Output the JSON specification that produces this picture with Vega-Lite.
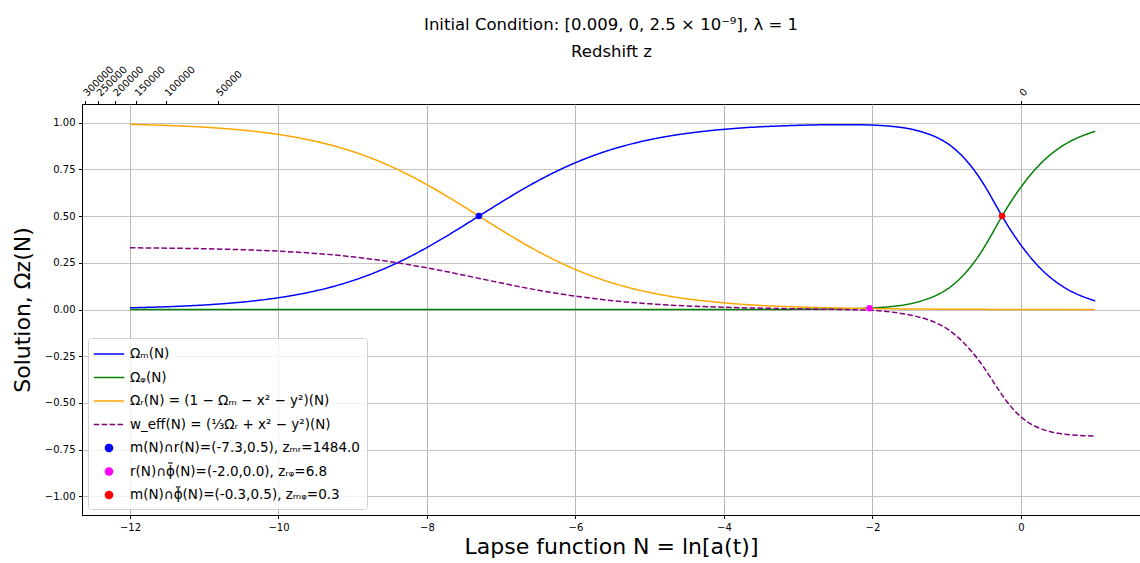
{
  "$schema": "https://vega.github.io/schema/vega-lite/v6.json",
  "width": 1058,
  "height": 411,
  "autosize": "none",
  "padding": {"left": 82, "top": 104, "right": 0, "bottom": 48},
  "background": "white",
  "config": {
    "font": "DejaVu Sans",
    "view": {"stroke": "black", "strokeWidth": 1},
    "axis": {
      "labelFont": "DejaVu Sans",
      "titleFont": "DejaVu Sans",
      "labelFontSize": 10,
      "labelColor": "black",
      "titleColor": "black",
      "titleFontWeight": "normal",
      "tickColor": "black",
      "tickSize": 3.5,
      "labelPadding": 3.5,
      "domainColor": "black",
      "gridColor": "#b0b0b0",
      "gridWidth": 0.9
    },
    "legend": {
      "labelFont": "DejaVu Sans",
      "labelFontSize": 13.5,
      "labelColor": "black"
    }
  },
  "title": {
    "text": "Initial Condition: [0.009, 0, 2.5 × 10⁻⁹], λ = 1",
    "fontSize": 16.5,
    "fontWeight": "normal",
    "font": "DejaVu Sans",
    "color": "black",
    "anchor": "middle",
    "offset": 10
  },
  "datasets": {
    "curves": [
      {"N": -12, "m": 0.0090, "phi": 0, "r": 0.9910, "w": 0.3303},
      {"N": -11.5, "m": 0.0148, "phi": 0, "r": 0.9852, "w": 0.3284},
      {"N": -11, "m": 0.0241, "phi": 0, "r": 0.9759, "w": 0.3253},
      {"N": -10.5, "m": 0.0392, "phi": 0, "r": 0.9608, "w": 0.3203},
      {"N": -10, "m": 0.0630, "phi": 0, "r": 0.9370, "w": 0.3123},
      {"N": -9.5, "m": 0.0998, "phi": 0, "r": 0.9002, "w": 0.3001},
      {"N": -9, "m": 0.1545, "phi": 0, "r": 0.8455, "w": 0.2818},
      {"N": -8.5, "m": 0.2315, "phi": 0, "r": 0.7685, "w": 0.2562},
      {"N": -8, "m": 0.3318, "phi": 0, "r": 0.6682, "w": 0.2227},
      {"N": -7.5, "m": 0.4502, "phi": 0, "r": 0.5498, "w": 0.1833},
      {"N": -7, "m": 0.5744, "phi": 0, "r": 0.4256, "w": 0.1419},
      {"N": -6.5, "m": 0.6900, "phi": 0, "r": 0.3100, "w": 0.1033},
      {"N": -6, "m": 0.7858, "phi": 0, "r": 0.2142, "w": 0.0714},
      {"N": -5.5, "m": 0.8582, "phi": 0, "r": 0.1418, "w": 0.0473},
      {"N": -5, "m": 0.9089, "phi": 0, "r": 0.0911, "w": 0.0304},
      {"N": -4.5, "m": 0.9427, "phi": 0, "r": 0.0573, "w": 0.0191},
      {"N": -4, "m": 0.9644, "phi": 0.0001, "r": 0.0356, "w": 0.0118},
      {"N": -3.5, "m": 0.9782, "phi": 0.0003, "r": 0.0215, "w": 0.0071},
      {"N": -3, "m": 0.9858, "phi": 0.0008, "r": 0.0134, "w": 0.0037},
      {"N": -2.75, "m": 0.9881, "phi": 0.0015, "r": 0.0104, "w": 0.0022},
      {"N": -2.5, "m": 0.9892, "phi": 0.0027, "r": 0.0081, "w": 0.0007},
      {"N": -2.25, "m": 0.9892, "phi": 0.0045, "r": 0.0063, "w": -0.0015},
      {"N": -2, "m": 0.9871, "phi": 0.008, "r": 0.0049, "w": -0.0045},
      {"N": -1.75, "m": 0.9807, "phi": 0.0155, "r": 0.0038, "w": -0.0135},
      {"N": -1.5, "m": 0.9671, "phi": 0.030, "r": 0.0029, "w": -0.029},
      {"N": -1.25, "m": 0.9398, "phi": 0.058, "r": 0.0022, "w": -0.055},
      {"N": -1, "m": 0.8914, "phi": 0.107, "r": 0.0016, "w": -0.102},
      {"N": -0.75, "m": 0.8039, "phi": 0.195, "r": 0.0011, "w": -0.187},
      {"N": -0.5, "m": 0.6693, "phi": 0.33, "r": 0.0007, "w": -0.31},
      {"N": -0.25, "m": 0.4966, "phi": 0.503, "r": 0.0004, "w": -0.46},
      {"N": 0, "m": 0.3448, "phi": 0.655, "r": 0.0002, "w": -0.575},
      {"N": 0.25, "m": 0.2249, "phi": 0.775, "r": 0.0001, "w": -0.635},
      {"N": 0.5, "m": 0.1400, "phi": 0.86, "r": 0.0, "w": -0.663},
      {"N": 0.75, "m": 0.0830, "phi": 0.917, "r": 0.0, "w": -0.673},
      {"N": 1, "m": 0.0460, "phi": 0.954, "r": 0.0, "w": -0.677}
    ],
    "points": [
      {"series": "p1", "N": -7.3, "v": 0.5},
      {"series": "p2", "N": -2.04, "v": 0.007},
      {"series": "p3", "N": -0.255, "v": 0.5}
    ]
  },
  "layer": [
    {
      "data": {"name": "curves"},
      "transform": [{"fold": ["m", "phi", "r", "w"], "as": ["series", "v"]}],
      "mark": {"type": "line", "strokeWidth": 1.5, "interpolate": "natural", "clip": true},
      "encoding": {
        "x": {
          "field": "N", "type": "quantitative",
          "scale": {"domain": [-12.646, 1.603], "nice": false, "zero": false},
          "axis": {
            "orient": "bottom",
            "values": [-12, -10, -8, -6, -4, -2, 0],
            "format": "d",
            "grid": true,
            "title": "Lapse function N = ln[a(t)]",
            "titleFontSize": 22,
            "titlePadding": 4
          }
        },
        "y": {
          "field": "v", "type": "quantitative",
          "scale": {"domain": [-1.1, 1.1], "nice": false, "zero": false},
          "axis": {
            "values": [-1, -0.75, -0.5, -0.25, 0, 0.25, 0.5, 0.75, 1],
            "format": ".2f",
            "grid": true,
            "gridColor": "#c4c4c4",
            "gridWidth": 1.2,
            "title": "Solution, Ωᴢ(N)",
            "titleFontSize": 22,
            "titlePadding": 10
          }
        },
        "color": {
          "field": "series", "type": "nominal",
          "scale": {
            "domain": ["m", "phi", "r", "w", "p1", "p2", "p3"],
            "range": ["#0000ff", "#008000", "#ffa500", "#800080", "#0000ff", "#ff00ff", "#ff0000"]
          },
          "legend": {
            "title": null,
            "orient": "bottom-left",
            "offset": 6,
            "padding": 7,
            "symbolSize": 256,
            "symbolType": "M-1.9,0H1.9",
            "symbolOffset": 5,
            "labelOffset": 12,
            "rowPadding": 7.5,
            "labelLimit": 500,
            "fillColor": "rgba(255,255,255,0.8)",
            "strokeColor": "#d0d0d0",
            "cornerRadius": 3,
            "labelExpr": "datum.label == 'm' ? 'Ωₘ(N)' : datum.label == 'phi' ? 'Ωᵩ(N)' : datum.label == 'r' ? 'Ωᵣ(N) = (1 − Ωₘ − x² − y²)(N)' : datum.label == 'w' ? 'w_eff(N) = (⅓Ωᵣ + x² − y²)(N)' : datum.label == 'p1' ? 'm(N)∩r(N)=(-7.3,0.5), zₘᵣ=1484.0' : datum.label == 'p2' ? 'r(N)∩ϕ̃(N)=(-2.0,0.0), zᵣᵩ=6.8' : 'm(N)∩ϕ̃(N)=(-0.3,0.5), zₘᵩ=0.3'",
            "encode": {
              "symbols": {
                "update": {
                  "shape": {"signal": "indexof(['p1','p2','p3'], datum.value) >= 0 ? 'circle' : 'M-1.9,0H1.9'"},
                  "size": {"signal": "indexof(['p1','p2','p3'], datum.value) >= 0 ? 50 : 256"},
                  "fill": {"signal": "indexof(['p1','p2','p3'], datum.value) >= 0 ? scale('color', datum.value) : 'transparent'"},
                  "stroke": {"signal": "indexof(['p1','p2','p3'], datum.value) >= 0 ? 'transparent' : scale('color', datum.value)"},
                  "strokeWidth": {"value": 1.5},
                  "strokeDash": {"signal": "datum.value == 'w' ? [5.5, 2.4] : [1, 0]"},
                  "opacity": {"value": 1}
                }
              }
            }
          }
        },
        "strokeDash": {
          "field": "series", "type": "nominal",
          "scale": {"domain": ["m", "phi", "r", "w"], "range": [[1, 0], [1, 0], [1, 0], [5.5, 2.4]]},
          "legend": null
        }
      }
    },
    {
      "data": {"name": "points"},
      "mark": {"type": "circle", "size": 42, "opacity": 1},
      "encoding": {
        "x": {
          "field": "N", "type": "quantitative",
          "axis": {
            "orient": "top",
            "values": [-12.61154, -12.42922, -12.20608, -11.91839, -11.51294, -10.8198, 0],
            "labelExpr": "format(round((exp(-datum.value) - 1) / 1000) * 1000, 'd')",
            "labelAngle": -45,
            "labelAlign": "left",
            "labelBaseline": "middle",
            "labelOverlap": false,
            "labelPadding": 6,
            "grid": false,
            "domain": false,
            "title": "Redshift z",
            "titleFontSize": 16.5,
            "titlePadding": 4
          }
        },
        "y": {"field": "v", "type": "quantitative"},
        "color": {"field": "series", "type": "nominal"}
      }
    }
  ],
  "resolve": {"axis": {"x": "independent"}}
}
